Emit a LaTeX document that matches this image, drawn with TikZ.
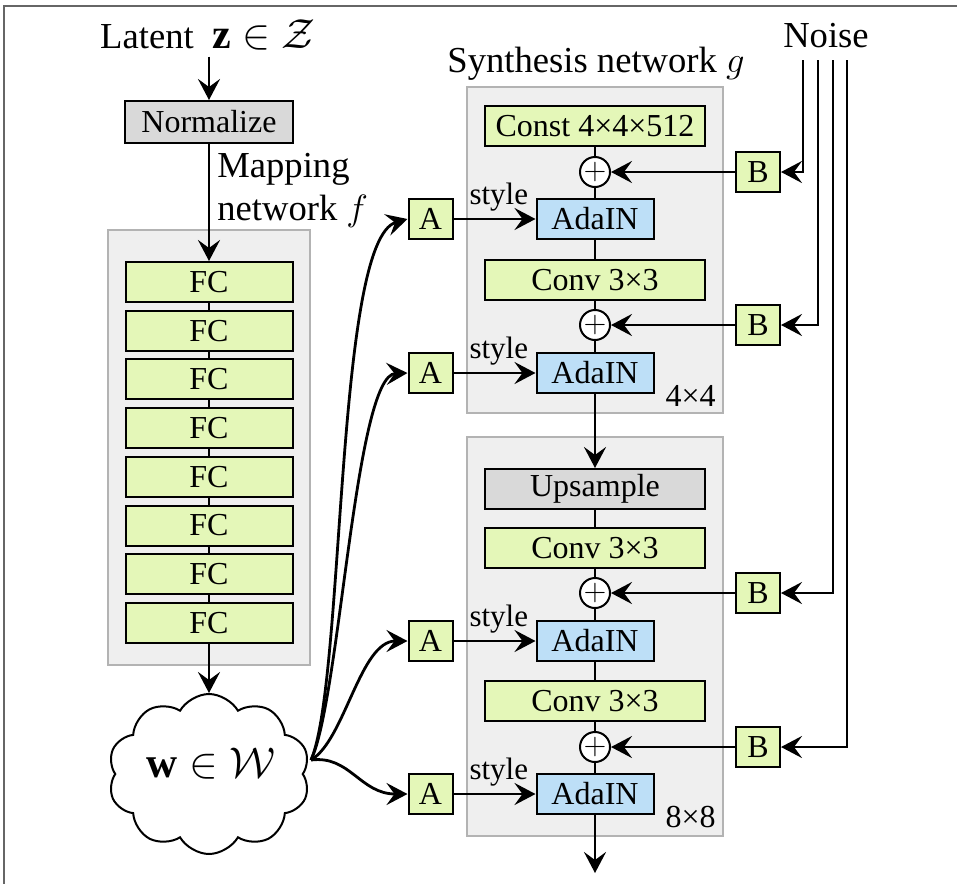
\documentclass[tikz,border=0pt]{standalone}
\usepackage{fix-cm}
\usepackage{fontspec}
\setmainfont{Liberation Serif}
\usetikzlibrary{arrows.meta,positioning,shapes.symbols}
\definecolor{fcgreen}{HTML}{E4F7B8}
\definecolor{adablue}{HTML}{BDDFF7}
\definecolor{opgray}{HTML}{D9D9D9}
\definecolor{groupgray}{HTML}{EFEFEF}
\definecolor{groupedge}{HTML}{B3B3B3}
\tikzset{
  flowbox/.style={draw=black, line width=1pt, fill=fcgreen, align=center, minimum height=20pt, inner sep=0pt, font=\fontsize{16}{19}\selectfont},
  fcbox/.style={flowbox, minimum width=83.5pt},
  convbox/.style={flowbox, minimum width=110pt},
  adabox/.style={flowbox, fill=adablue, minimum width=58.5pt},
  affbox/.style={flowbox, minimum width=22pt},
  sumnode/.style={circle, draw=black, line width=1pt, fill=white, minimum size=14pt, inner sep=0pt, font=\fontsize{15}{15}\selectfont},
  groupbox/.style={draw=groupedge, line width=1pt, fill=groupgray, inner sep=0pt},
  flowarrow/.style={-{Stealth[length=10.5pt, width=11pt, inset=4pt]}, line width=1.4pt},
  flowline/.style={line width=1pt},
  biglabel/.style={font=\fontsize{18.3}{21.5}\selectfont},
  bigmath/.style={font=\fontsize{21.5}{24}\selectfont},
  stylelabel/.style={anchor=base east, inner sep=0pt, xshift=-3pt, yshift=7.5pt, font=\fontsize{15.5}{18}\selectfont},
  reslabel/.style={anchor=base east, inner sep=0pt, font=\fontsize{16}{18}\selectfont},
}

\begin{document}
\begin{tikzpicture}[x=0.5pt, y=-0.5pt, node distance=3.35pt]
    \useasboundingbox (0,0) rectangle (957,884);
    \draw[line width=1pt, black!60] (957,6) -- (4,6) -- (4,884);

    % grey group panels
    \node[groupbox, minimum width=101pt, minimum height=217.5pt] (mapbox) at (209,447.5) {};
    \node[groupbox, minimum width=128pt, minimum height=163pt] (synbox1) at (595,250) {};
    \node[groupbox, minimum width=128pt, minimum height=199.5pt] (synbox2) at (595,636.5) {};

    % mapping network
    \node[biglabel, anchor=base] (latent) at (208,48) {Latent\ \ {\fontsize{21}{24}\selectfont$\mathbf{z}\in\mathcal{Z}$}};
    \node[flowbox, fill=opgray, minimum width=84pt, minimum height=21pt] (norm) at (209,122) {Normalize};
    \node[biglabel, anchor=north west, align=left, inner sep=0pt] (maplabel) at (217,153) {Mapping\\network $f$};
    \node[fcbox] (fc1) at (209,282) {FC};
    \node[fcbox, below=of fc1] (fc2) {FC};
    \node[fcbox, below=of fc2] (fc3) {FC};
    \node[fcbox, below=of fc3] (fc4) {FC};
    \node[fcbox, below=of fc4] (fc5) {FC};
    \node[fcbox, below=of fc5] (fc6) {FC};
    \node[fcbox, below=of fc6] (fc7) {FC};
    \node[fcbox, below=of fc7] (fc8) {FC};
    \node[draw, cloud, cloud puffs=10, cloud puff arc=120, aspect=1.26, line width=1pt, fill=white, minimum width=101pt, minimum height=80pt] (w) at (209,774) {};
    \node[bigmath] (wlabel) at (211,764) {$\mathbf{w}\in\mathcal{W}$};
    \coordinate (wout) at (311,760);

    % synthesis network
    \node[biglabel, anchor=base] (synlabel) at (596,72) {Synthesis network $g$};
    \node[convbox] (const) at (595,126) {Const 4×4×512};
    \node[sumnode] (sum1) at (595,172) {$+$};
    \node[adabox] (ada1) at (595,219) {AdaIN};
    \node[convbox] (conv1) at (595,280) {Conv 3×3};
    \node[sumnode] (sum2) at (595,325) {$+$};
    \node[adabox] (ada2) at (595,373) {AdaIN};
    \node[reslabel] (res1) at (716,406) {4×4};
    \node[convbox, fill=opgray] (up) at (595,489) {Upsample};
    \node[convbox] (conv2) at (595,548) {Conv 3×3};
    \node[sumnode] (sum3) at (595,593) {$+$};
    \node[adabox] (ada3) at (595,641) {AdaIN};
    \node[convbox] (conv3) at (595,701) {Conv 3×3};
    \node[sumnode] (sum4) at (595,747) {$+$};
    \node[adabox] (ada4) at (595,794) {AdaIN};
    \node[reslabel] (res2) at (716,827) {8×8};
    \coordinate (out) at (595,873);

    % learned affine transforms and noise scaling
    \node[affbox, left=41pt of ada1] (a1) {A};
    \node[affbox, left=41pt of ada2] (a2) {A};
    \node[affbox, left=41pt of ada3] (a3) {A};
    \node[affbox, left=41pt of ada4] (a4) {A};
    \node[affbox, right=62pt of sum1] (b1) {B};
    \node[affbox, right=62pt of sum2] (b2) {B};
    \node[affbox, right=62pt of sum3] (b3) {B};
    \node[affbox, right=62pt of sum4] (b4) {B};
    \node[biglabel, anchor=base] (noise) at (826,47) {Noise};
    \coordinate (n1) at (803,60);
    \coordinate (n2) at (818,60);
    \coordinate (n3) at (833,60);
    \coordinate (n4) at (847,60);

    % connectors
    \draw[flowarrow] (latent.south -| norm.north) -- (norm);
    \draw[flowarrow] (norm) -- (fc1);
    \draw[flowline] (fc1) -- (fc2);
    \draw[flowline] (fc2) -- (fc3);
    \draw[flowline] (fc3) -- (fc4);
    \draw[flowline] (fc4) -- (fc5);
    \draw[flowline] (fc5) -- (fc6);
    \draw[flowline] (fc6) -- (fc7);
    \draw[flowline] (fc7) -- (fc8);
    \draw[flowarrow] (fc8) -- (w);

    \draw[flowarrow] (wout) .. controls (345,680) and (335,240) .. (a1.west);
    \draw[flowarrow] (wout) .. controls (340,700) and (355,375) .. (a2.west);
    \draw[flowarrow] (wout) .. controls (345,740) and (360,641) .. (a3.west);
    \draw[flowarrow] (wout) .. controls (350,755) and (360,794) .. (a4.west);

    \draw[flowarrow] (a1) -- node[stylelabel, pos=1] (st1) {style} (ada1);
    \draw[flowarrow] (a2) -- node[stylelabel, pos=1] (st2) {style} (ada2);
    \draw[flowarrow] (a3) -- node[stylelabel, pos=1] (st3) {style} (ada3);
    \draw[flowarrow] (a4) -- node[stylelabel, pos=1] (st4) {style} (ada4);

    \draw[flowline] (const) -- (sum1);
    \draw[flowline] (sum1) -- (ada1);
    \draw[flowline] (ada1) -- (conv1);
    \draw[flowline] (conv1) -- (sum2);
    \draw[flowline] (sum2) -- (ada2);
    \draw[flowarrow] (ada2) -- (up);
    \draw[flowline] (up) -- (conv2);
    \draw[flowline] (conv2) -- (sum3);
    \draw[flowline] (sum3) -- (ada3);
    \draw[flowline] (ada3) -- (conv3);
    \draw[flowline] (conv3) -- (sum4);
    \draw[flowline] (sum4) -- (ada4);
    \draw[flowarrow] (ada4) -- (out);

    \draw[flowarrow] (n1) |- (b1);
    \draw[flowarrow] (n2) |- (b2);
    \draw[flowarrow] (n3) |- (b3);
    \draw[flowarrow] (n4) |- (b4);
    \draw[flowarrow] (b1) -- (sum1);
    \draw[flowarrow] (b2) -- (sum2);
    \draw[flowarrow] (b3) -- (sum3);
    \draw[flowarrow] (b4) -- (sum4);
\end{tikzpicture}
\end{document}
